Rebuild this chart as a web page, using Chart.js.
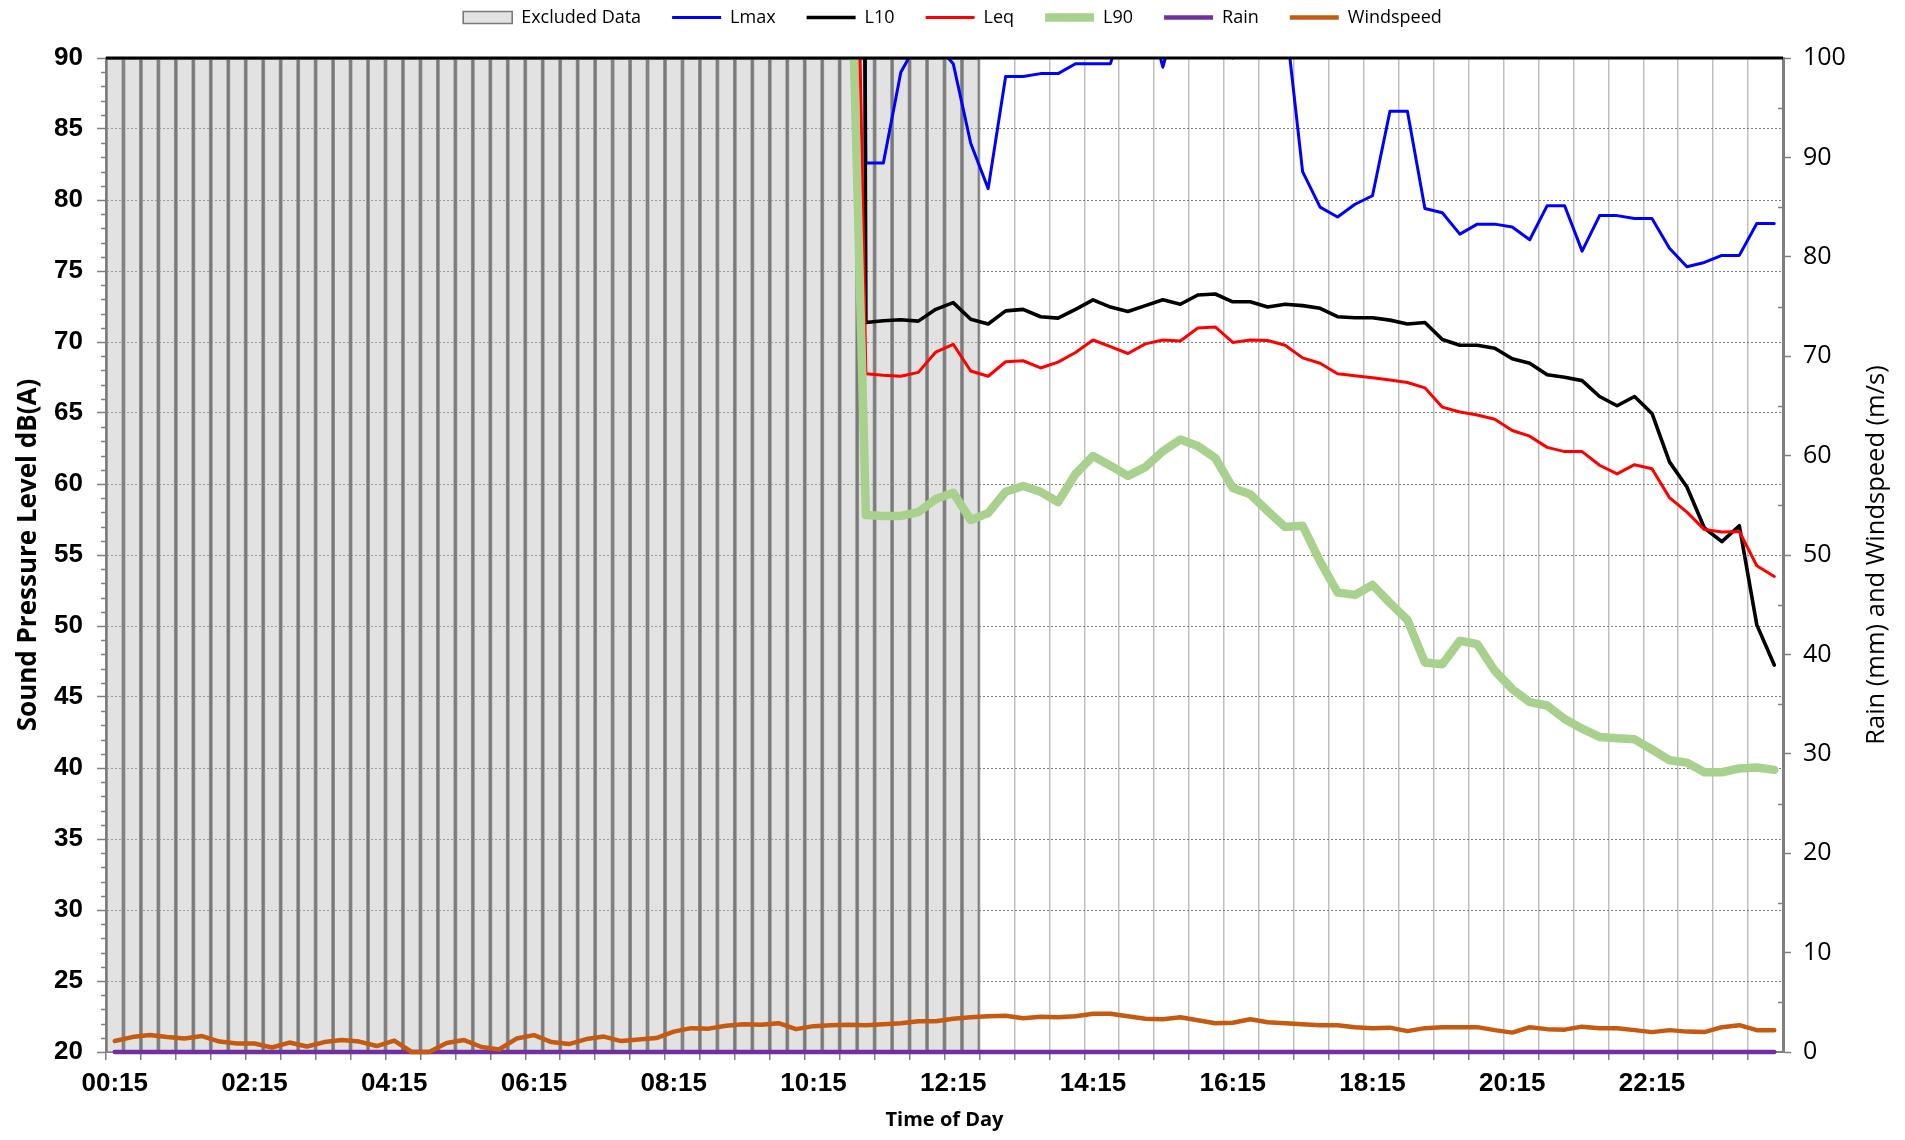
<!DOCTYPE html>
<html>
<head>
<meta charset="utf-8">
<script src="https://cdn.jsdelivr.net/npm/chart.js@4.4.1/dist/chart.umd.min.js"></script>
<style>
html,body{margin:0;padding:0;background:#ffffff;}
#wrap{width:1905px;height:1140px;}
</style>
</head>
<body>
<div id="wrap"><canvas id="c" width="1905" height="1140"></canvas></div>
<script>
// ---------- DATA ----------
const categories = ['00:15','00:30','00:45','01:00','01:15','01:30','01:45','02:00','02:15','02:30','02:45','03:00','03:15','03:30','03:45','04:00','04:15','04:30','04:45','05:00','05:15','05:30','05:45','06:00','06:15','06:30','06:45','07:00','07:15','07:30','07:45','08:00','08:15','08:30','08:45','09:00','09:15','09:30','09:45','10:00','10:15','10:30','10:45','11:00','11:15','11:30','11:45','12:00','12:15','12:30','12:45','13:00','13:15','13:30','13:45','14:00','14:15','14:30','14:45','15:00','15:15','15:30','15:45','16:00','16:15','16:30','16:45','17:00','17:15','17:30','17:45','18:00','18:15','18:30','18:45','19:00','19:15','19:30','19:45','20:00','20:15','20:30','20:45','21:00','21:15','21:30','21:45','22:00','22:15','22:30','22:45','23:00','23:15','23:30','23:45','00:00'];

const xTickLabels = ['00:15','02:15','04:15','06:15','08:15','10:15','12:15','14:15','16:15','18:15','20:15','22:15'];

const excludedData = [90,90,90,90,90,90,90,90,90,90,90,90,90,90,90,90,90,90,90,90,90,90,90,90,90,90,90,90,90,90,90,90,90,90,90,90,90,90,90,90,90,90,90,90,90,90,90,90,90,90,
null,null,null,null,null,null,null,null,null,null,null,null,null,null,null,null,null,null,null,null,null,null,null,null,null,null,null,null,null,null,null,null,null,null,null,null,null,null,null,null,null,null,null,null,null,null];

const lmax = [null,null,null,null,null,null,null,null,null,null,null,null,null,null,null,null,null,null,null,null,null,null,null,null,null,null,null,null,null,null,null,null,null,null,null,null,null,null,null,null,null,null,
300,82.6,82.6,89.0,91.2,91.0,89.6,84.0,80.8,88.7,88.7,88.9,88.9,89.6,89.6,89.6,93.6,94,89.35,94,93,92,90,92,93,93,82.0,79.5,78.8,79.7,80.3,86.25,86.25,79.4,79.1,77.6,78.3,78.3,78.1,77.2,79.6,79.6,76.4,78.9,78.9,78.7,78.7,76.6,75.3,75.6,76.1,76.1,78.35,78.35];

const l10 = [null,null,null,null,null,null,null,null,null,null,null,null,null,null,null,null,null,null,null,null,null,null,null,null,null,null,null,null,null,null,null,null,null,null,null,null,null,null,null,null,null,null,
400,71.37,71.5,71.57,71.47,72.3,72.77,71.6,71.27,72.19,72.3,71.78,71.68,72.3,72.97,72.46,72.15,72.56,72.97,72.66,73.31,73.38,72.83,72.83,72.46,72.66,72.56,72.37,71.78,71.71,71.71,71.54,71.27,71.37,70.18,69.77,69.77,69.56,68.82,68.51,67.69,67.52,67.28,66.16,65.51,66.16,64.97,61.56,59.79,56.9,55.94,57.06,50.08,47.25];

const leq = [null,null,null,null,null,null,null,null,null,null,null,null,null,null,null,null,null,null,null,null,null,null,null,null,null,null,null,null,null,null,null,null,null,null,null,null,null,null,null,null,null,null,
135,67.76,67.66,67.59,67.86,69.29,69.84,67.96,67.59,68.61,68.68,68.17,68.58,69.26,70.14,69.67,69.19,69.87,70.14,70.07,70.99,71.06,69.97,70.14,70.11,69.77,68.88,68.5,67.76,67.62,67.49,67.32,67.15,66.77,65.41,65.07,64.86,64.56,63.77,63.37,62.58,62.28,62.28,61.32,60.71,61.36,61.08,59.04,58.02,56.79,56.62,56.66,54.24,53.49];

const l90 = [null,null,null,null,null,null,null,null,null,null,null,null,null,null,null,null,null,null,null,null,null,null,null,null,null,null,null,null,null,null,null,null,null,null,null,null,null,null,null,null,null,null,
105,57.81,57.75,57.75,58.02,58.94,59.38,57.47,57.95,59.45,59.86,59.45,58.73,60.71,61.97,61.29,60.57,61.19,62.31,63.13,62.68,61.83,59.72,59.28,58.09,56.97,57.06,54.55,52.36,52.19,52.9,51.62,50.43,47.43,47.3,48.96,48.72,46.85,45.56,44.64,44.4,43.45,42.77,42.19,42.09,42.02,41.3,40.55,40.38,39.7,39.7,39.97,40.04,39.87];

const rain = [0,0,0,0,0,0,0,0,0,0,0,0,0,0,0,0,0,0,0,0,0,0,0,0,0,0,0,0,0,0,0,0,0,0,0,0,0,0,0,0,0,0,0,0,0,0,0,0,0,0,0,0,0,0,0,0,0,0,0,0,0,0,0,0,0,0,0,0,0,0,0,0,0,0,0,0,0,0,0,0,0,0,0,0,0,0,0,0,0,0,0,0,0,0,0,0];

const windspeed = [1.1,1.5,1.7,1.5,1.35,1.6,1.05,0.85,0.85,0.45,0.95,0.55,1.0,1.2,1.05,0.6,1.15,0,0,0.9,1.2,0.5,0.25,1.35,1.7,1.0,0.8,1.3,1.55,1.1,1.25,1.4,2.05,2.4,2.35,2.65,2.8,2.75,2.9,2.3,2.6,2.7,2.75,2.7,2.8,2.9,3.1,3.1,3.35,3.5,3.6,3.65,3.4,3.55,3.5,3.6,3.85,3.85,3.6,3.35,3.3,3.5,3.2,2.9,2.95,3.3,3.0,2.9,2.8,2.7,2.7,2.5,2.4,2.45,2.1,2.4,2.5,2.5,2.5,2.2,1.95,2.5,2.3,2.25,2.55,2.4,2.4,2.2,2.0,2.2,2.05,2.0,2.5,2.7,2.2,2.2];

const leftAxisTitle = 'Sound Pressure Level dB(A)';
const rightAxisTitle = 'Rain (mm) and Windspeed (m/s)';
const xAxisTitle = 'Time of Day';

// ---------- CHART ----------
Chart.defaults.font.family = "'Open Sans', sans-serif";
Chart.defaults.color = '#000';

function lineDs(label, data, color, width, order, axis) {
  return {
    type: 'line', label, data, yAxisID: axis || 'y',
    borderColor: color, backgroundColor: color, borderWidth: width,
    pointRadius: 0, pointHoverRadius: 0, pointHitRadius: 0,
    pointStyle: 'line', pointBorderColor: color, pointBackgroundColor: color, pointBorderWidth: width,
    tension: 0, fill: false, spanGaps: false,
    borderJoinStyle: 'round', borderCapStyle: 'round',
    clip: {left: 10, right: 10, top: 0, bottom: 10},
    order
  };
}

const extras = {
  id: 'extras',
  afterDatasetsDraw(chart) {
    const {ctx, chartArea} = chart;
    ctx.save();
    ctx.strokeStyle = '#000';
    ctx.lineWidth = 3;
    ctx.beginPath();
    ctx.moveTo(chartArea.left, chartArea.top);
    ctx.lineTo(chartArea.right, chartArea.top);
    ctx.stroke();
    ctx.restore();
  },
  afterDraw(chart) {
    const {ctx, chartArea, scales} = chart;
    ctx.save();
    ctx.strokeStyle = '#808080';
    ctx.lineWidth = 1.5;
    const yl = scales.y;
    for (let v = 21; v < 90; v++) {
      if (v % 5 === 0) continue;
      const p = Math.round(yl.getPixelForValue(v)) + 0.5;
      ctx.beginPath(); ctx.moveTo(chartArea.left - 5, p); ctx.lineTo(chartArea.left, p); ctx.stroke();
    }
    const yr = scales.y2;
    for (let v = 5; v < 100; v += 10) {
      const p = Math.round(yr.getPixelForValue(v)) + 0.5;
      ctx.beginPath(); ctx.moveTo(chartArea.right - 5, p); ctx.lineTo(chartArea.right, p); ctx.stroke();
    }
    ctx.translate(yr.right - 28, (chartArea.top + chartArea.bottom) / 2);
    ctx.rotate(-Math.PI / 2);
    ctx.font = "25.5px 'Open Sans'";
    ctx.fillStyle = '#000';
    ctx.textAlign = 'center';
    ctx.textBaseline = 'middle';
    ctx.fillText(rightAxisTitle, 0, 0);
    ctx.restore();
  }
};

new Chart(document.getElementById('c'), {
  type: 'bar',
  data: {
    labels: categories,
    datasets: [
      {
        type: 'bar', label: 'Excluded Data', data: excludedData, yAxisID: 'y',
        backgroundColor: 'rgba(190,190,190,0.45)', borderColor: '#7A7A7A', borderWidth: 1.6,
        borderSkipped: 'bottom', barPercentage: 1, categoryPercentage: 1,
        pointStyle: 'rect', order: 10
      },
      lineDs('Lmax', lmax, '#0000FF', 3, 6),
      lineDs('L10', l10, '#000000', 3.6, 5),
      lineDs('Leq', leq, '#FF0000', 3, 4),
      lineDs('L90', l90, '#A9D18E', 8.5, 3),
      lineDs('Rain', rain, '#7030A0', 4.5, 2, 'y2'),
      lineDs('Windspeed', windspeed, '#C55A11', 4.5, 1, 'y2')
    ]
  },
  options: {
    responsive: false,
    devicePixelRatio: 1,
    animation: false,
    events: [],
    layout: {padding: {top: -22.5, left: 0, right: 0, bottom: 0}},
    plugins: {
      tooltip: {enabled: false},
      title: {display: true, text: '', font: {size: 10}, padding: {top: 4.75, bottom: 4.75}},
      legend: {
        display: true, position: 'top', align: 'center', weight: 3000,
        labels: {
          usePointStyle: true, pointStyleWidth: 49, boxHeight: 12,
          padding: 31, color: '#000',
          font: {family: "'Open Sans'", size: 18},
          sort: (a, b) => a.datasetIndex - b.datasetIndex
        }
      }
    },
    scales: {
      x: {
        type: 'category', offset: true,
        grid: {
          offset: true, drawOnChartArea: true,
          color: c => (c.index % 2 === 0 ? '#BFBFBF' : 'rgba(0,0,0,0)'),
          lineWidth: 1.5, tickLength: 8,
          tickColor: c => (c.index % 2 === 0 ? '#808080' : 'rgba(0,0,0,0)'),
          tickWidth: 1.5
        },
        border: {display: true, color: '#808080', width: 2},
        ticks: {
          autoSkip: false, maxRotation: 0, minRotation: 0, padding: 8, color: '#000',
          font: {family: "'Liberation Sans'", weight: 'bold', size: 26},
          callback: function(v) { const l = this.getLabelForValue(v); return xTickLabels.includes(l) ? l : ''; }
        },
        title: {display: true, text: xAxisTitle, color: '#000', font: {family: "'Open Sans'", weight: 'bold', size: 20}, padding: {top: 0, bottom: 8}},
        afterFit: s => { s.height = 88; }
      },
      y: {
        position: 'left', min: 20, max: 90,
        ticks: {stepSize: 5, padding: 14, color: '#000', font: {family: "'Liberation Sans'", weight: 'bold', size: 26}},
        grid: {color: '#7F7F7F', lineWidth: 1, tickLength: 9, tickColor: '#808080', tickWidth: 1.5, tickBorderDash: []},
        border: {display: true, color: '#808080', width: 2, dash: [2, 2]},
        title: {display: true, text: leftAxisTitle, color: '#000', font: {family: "'Open Sans'", weight: 'bold', size: 26}, padding: {top: 13, bottom: 0}},
        afterFit: s => { s.width = 106; }
      },
      y2: {
        position: 'right', min: 0, max: 100,
        ticks: {stepSize: 10, padding: 12, color: '#000', font: {family: "'Open Sans'", size: 25}},
        grid: {drawOnChartArea: false, tickLength: 8, tickColor: '#808080', tickWidth: 1.5},
        border: {display: true, color: '#808080', width: 3},
        afterFit: s => { s.width = 122; }
      }
    }
  },
  plugins: [extras]
});
</script>
</body>
</html>
